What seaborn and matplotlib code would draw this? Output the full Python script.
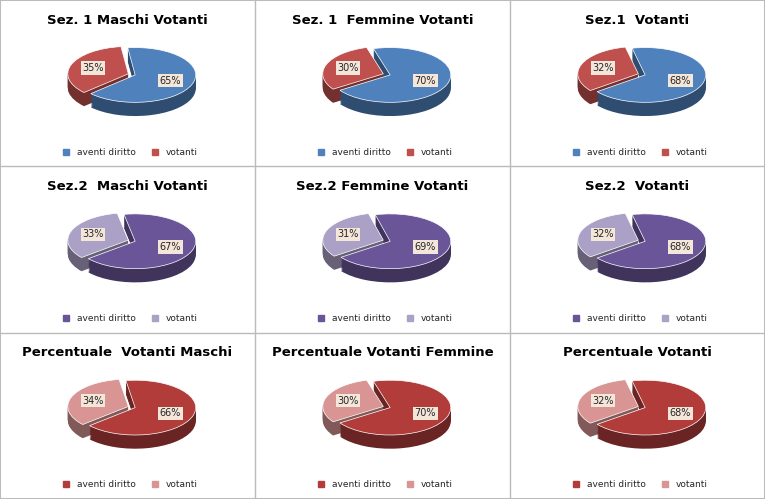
import matplotlib
matplotlib.use("Agg")
import matplotlib.pyplot as plt
import seaborn as sns
from matplotlib.lines import Line2D
import matplotlib.colors as mc

sns.set_theme(style="white")

titles = ["Sez. 1 Maschi Votanti", "Sez. 1  Femmine Votanti", "Sez.1  Votanti",
          "Sez.2  Maschi Votanti", "Sez.2 Femmine Votanti", "Sez.2  Votanti",
          "Percentuale  Votanti Maschi", "Percentuale Votanti Femmine", "Percentuale Votanti"]
aventi = [65, 70, 68, 67, 69, 68, 66, 70, 68]
votanti = [35, 30, 32, 33, 31, 32, 34, 30, 32]
labels = ["aventi diritto", "votanti"]
row_colors = [("#4F81BD", "#C0504D"), ("#6A5599", "#ABA0C6"), ("#B13C3A", "#D89594")]

def darker(c, f=0.6):
    r, g, b = mc.to_rgb(c)
    return (r * f, g * f, b * f)

fig = plt.figure(figsize=(7.65, 4.99), dpi=100)
W, H = 765, 499
cw, ch = 255, 166.33

for i in range(9):
    r, c = divmod(i, 3)
    x0 = c * cw
    y0 = H - (r + 1) * ch
    ca, cv = row_colors[r]
    fig.text((x0 + cw / 2) / W, (y0 + ch - 20) / H, titles[i], ha="center", va="center",
             fontsize=9.5, fontweight="bold", color="black", family="DejaVu Sans")
    ax = fig.add_axes([(x0 + 0.15 * cw) / W, (y0 + 0.22 * ch) / H, 0.76 * cw / W, 0.56 * ch / H])
    vals = [votanti[i], aventi[i]]
    start = 160 - 1.8 * votanti[i]
    explode = [0.12, 0]
    n = 12
    for k in range(n):
        dy = -0.5 * (1 - k / n)
        ax.pie(vals, colors=[darker(cv), darker(ca)], startangle=start, explode=explode,
               center=(0, dy), radius=1, wedgeprops=dict(linewidth=0))
    _, texts = ax.pie(vals, colors=[cv, ca], startangle=start, explode=explode,
                      radius=1, labels=[f"{votanti[i]}%", f"{aventi[i]}%"], labeldistance=0.62,
                      wedgeprops=dict(linewidth=0.5, edgecolor="white"),
                      textprops=dict(fontsize=7, ha="center", va="center"))
    for t in texts:
        t.set_bbox(dict(facecolor="#F5E6DA", edgecolor="none", pad=1.2))
    ax.set_aspect("auto")
    ax.set_xlim(-1.6, 1.6)
    ax.set_ylim(-2.0, 1.4)
    ax.axis("off")
    handles = [Line2D([], [], marker="s", linestyle="", color=ca, markersize=5),
               Line2D([], [], marker="s", linestyle="", color=cv, markersize=5)]
    fig.legend(handles, labels, loc="center", bbox_to_anchor=((x0 + cw / 2) / W, (y0 + 14) / H),
               ncol=2, frameon=False, fontsize=6.5, handletextpad=0.2, columnspacing=1.2)

for k in range(1, 3):
    fig.add_artist(Line2D([k * cw / W] * 2, [0, 1], color="#BBBBBB", lw=1))
    fig.add_artist(Line2D([0, 1], [k * ch / H] * 2, color="#BBBBBB", lw=1))
fig.add_artist(plt.Rectangle((0, 0), 1, 1, fill=False, edgecolor="#BBBBBB", lw=1.5, transform=fig.transFigure))

fig.savefig("out.png", dpi=100)
